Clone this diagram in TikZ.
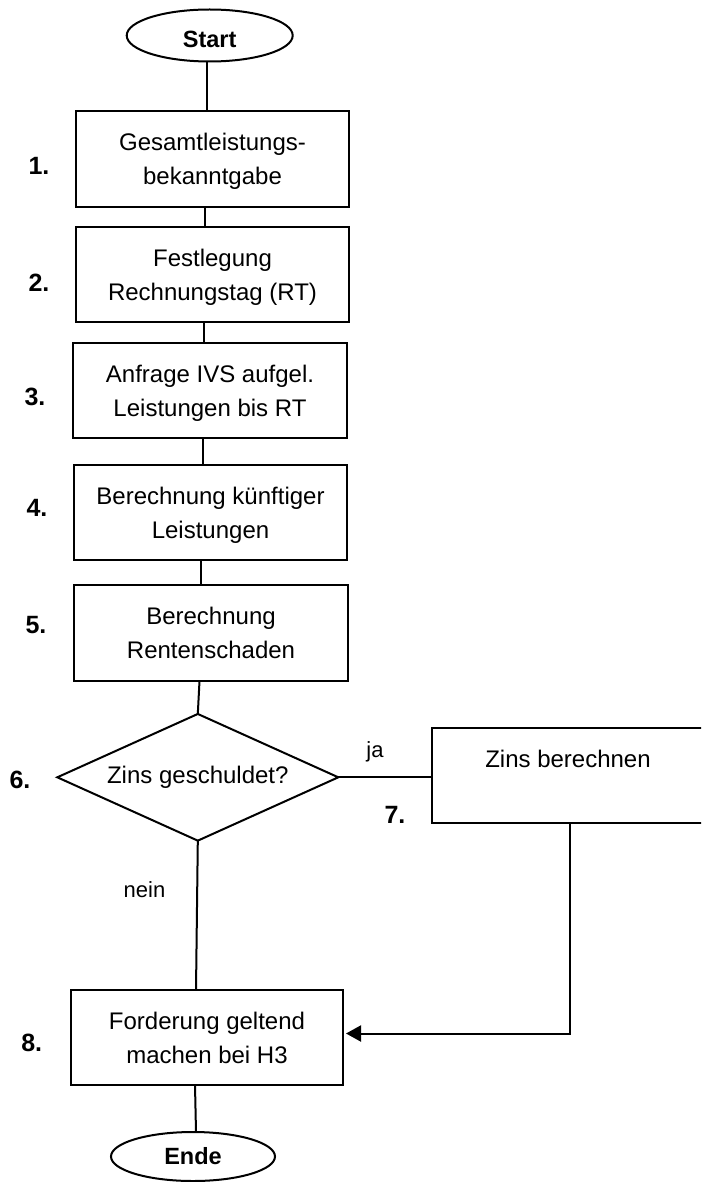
\documentclass[tikz,border=0pt]{standalone}
\usepackage{fontspec}
\setmainfont{Liberation Sans}
\usetikzlibrary{shapes.geometric,arrows.meta}
\begin{document}
\begin{tikzpicture}[x=1pt,y=-1pt,
  every node/.style={inner sep=0pt,outer sep=0pt},
  conn/.style={line width=2pt},
  arr/.style={conn,-{Triangle[length=15pt,width=16pt]}},
  procbox/.style={draw,line width=2pt,rectangle,align=center,text depth=0pt,font=\fontsize{24}{34}\selectfont},
  term/.style={draw,line width=2pt,ellipse,font=\bfseries\fontsize{23.5}{28}\selectfont},
  decision/.style={draw,line width=2pt,diamond,aspect=2.23,font=\fontsize{24}{28}\selectfont},
  num/.style={font=\bfseries\fontsize{25}{30}\selectfont},
  lbl/.style={font=\fontsize{22}{26}\selectfont},
  plain/.style={font=\fontsize{24}{28}\selectfont}]
\useasboundingbox (0,0) rectangle (701,1182);
\clip (0,0) rectangle (701,1182);

% terminals
\node[term,minimum width=166pt,minimum height=52pt,text height=25pt] (start) at (209.7,35.5) {Start};
\node[term,minimum width=164pt,minimum height=49pt] (ende) at (193,1156.5) {Ende};

% process boxes
\node[procbox,minimum width=273pt,minimum height=96pt] (b1) at (212.5,159) {Gesamtleistungs-\\bekanntgabe};
\node[procbox,minimum width=273pt,minimum height=95pt] (b2) at (212.5,274.5) {Festlegung\\Rechnungstag (RT)};
\node[procbox,minimum width=274pt,minimum height=95pt] (b3) at (210,390.5) {Anfrage IVS aufgel.\\Leistungen bis RT};
\node[procbox,minimum width=273pt,minimum height=95pt] (b4) at (210.5,512.5) {Berechnung künftiger\\Leistungen};
\node[procbox,minimum width=274pt,minimum height=96pt] (b5) at (211,633) {Berechnung\\Rentenschaden};
\node[decision,minimum width=281pt,minimum height=126.7pt] (dia) at (197.8,777.3) {Zins geschuldet?};
\node[procbox,minimum width=280pt,minimum height=95.6pt] (b7) at (571.7,775.5) {};
\node[plain] (b7t) at (568,759) {Zins berechnen};
\node[procbox,minimum width=272pt,minimum height=95pt] (b8) at (207,1037.5) {Forderung geltend\\machen bei H3};

% step numbers
\node[num] (n1) at (39,165.5) {1.};
\node[num] (n2) at (39,282.5) {2.};
\node[num] (n3) at (35,397) {3.};
\node[num] (n4) at (37,507.5) {4.};
\node[num] (n5) at (36,625) {5.};
\node[num] (n6) at (20,780) {6.};
\node[num] (n7) at (395,815) {7.};
\node[num] (n8) at (31.7,1042.5) {8.};

% branch labels
\node[lbl] (ja) at (375,752) {ja};
\node[lbl] (nein) at (144.5,890) {nein};

% connectors
\draw[conn] ([xshift=-2.7pt]start.south) -- ([xshift=-5.5pt]b1.north);
\draw[conn] ([xshift=-7.5pt]b1.south) -- ([xshift=-7.5pt]b2.north);
\draw[conn] ([xshift=-8.5pt]b2.south) -- ([xshift=-6pt]b3.north);
\draw[conn] ([xshift=-7pt]b3.south) -- ([xshift=-7.5pt]b4.north);
\draw[conn] ([xshift=-9.5pt]b4.south) -- ([xshift=-10pt]b5.north);
\draw[conn] ([xshift=-11.5pt]b5.south) -- (dia.north);
\draw[conn] (dia.east) -- (dia.east -| b7.west);
\draw[conn] (dia.south) -- ([xshift=-11pt]b8.north);
\draw[arr,shorten >=3pt] ([xshift=-1.7pt]b7.south) |- ([yshift=4pt]b8.east);
\draw[conn] ([xshift=-12pt]b8.south) -- ([xshift=3pt]ende.north);
\end{tikzpicture}
\end{document}
